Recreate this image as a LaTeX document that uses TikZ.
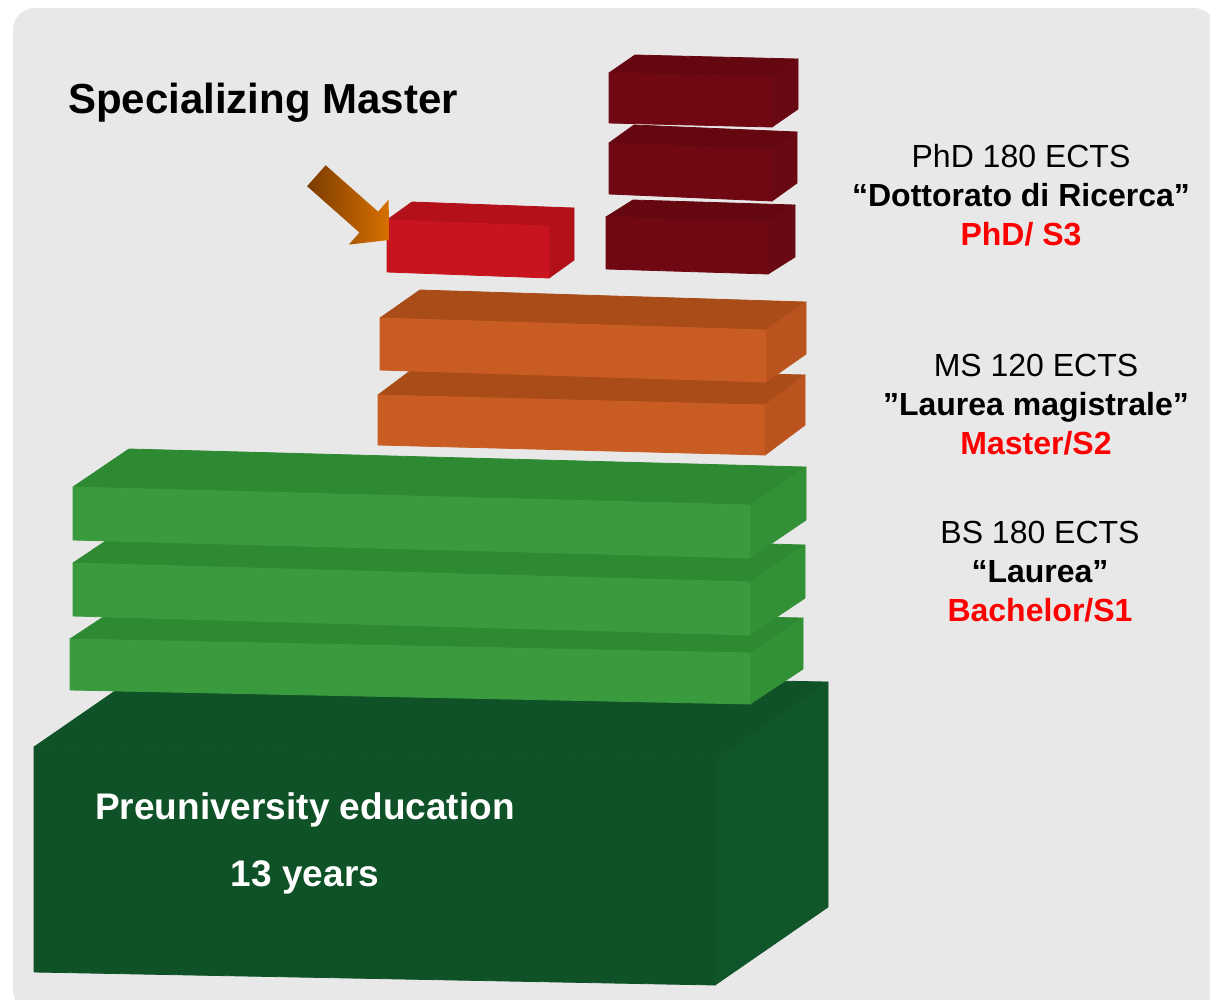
\documentclass[tikz,border=0pt]{standalone}
\usepackage{fontspec}
\setmainfont{Liberation Sans}
\definecolor{bggray}{HTML}{E8E8E8}
\definecolor{dgreenF}{HTML}{105228}
\definecolor{dgreenT}{HTML}{105228}
\definecolor{dgreenS}{HTML}{11552A}
\definecolor{greenF}{HTML}{3A9A3E}
\definecolor{greenT}{HTML}{2E8A32}
\definecolor{greenS}{HTML}{329136}
\definecolor{orangeF}{HTML}{C85C22}
\definecolor{orangeT}{HTML}{AA4C18}
\definecolor{orangeS}{HTML}{BA531E}
\definecolor{redF}{HTML}{C8141E}
\definecolor{redT}{HTML}{B4101A}
\definecolor{redS}{HTML}{B2111A}
\definecolor{dredF}{HTML}{6F0813}
\definecolor{dredT}{HTML}{650711}
\definecolor{dredS}{HTML}{690913}
\definecolor{arrowdark}{HTML}{7A3C00}
\definecolor{arroworange}{HTML}{D87000}
\definecolor{txtred}{HTML}{FF0000}
% slab: x0, top-left y, x1, top-right y, height, depth dx, depth dy, colour
\newcommand{\slab}[8]{%
  \filldraw[#8T, line width=0.8pt, line join=round] (#1,#2) -- (#1+#6,#2-#7) -- (#3+#6,#4-#7) -- (#3,#4) -- cycle;
  \filldraw[#8S, line width=0.8pt, line join=round] (#3,#4) -- (#3+#6,#4-#7) -- (#3+#6,#4-#7+#5) -- (#3,#4+#5) -- cycle;
  \filldraw[#8F, line width=0.8pt, line join=round] (#1,#2) -- (#3,#4) -- (#3,#4+#5) -- (#1,#2+#5) -- cycle;
}
\begin{document}
\begin{tikzpicture}[x=1pt,y=-1pt,
    lbl/.style={font=\fontsize{32}{39}\selectfont, align=center},
    wlbl/.style={font=\fontsize{37}{42}\selectfont\bfseries, text=white}]
  \useasboundingbox (0,0) rectangle (1210,999);
  \clip (0,0) rectangle (1210,999);
  % panel
  \fill[bggray, rounded corners=22pt] (13,8) rectangle (1216,1012);
  % preuniversity block
  \slab{34}{747}{715}{760}{225}{113}{78}{dgreen}
  % bachelor
  \slab{70}{639}{750}{653}{51}{53}{35}{green}
  \slab{73}{563}{750}{582}{53}{55}{37}{green}
  \slab{73}{487}{750}{505}{53}{56}{38}{green}
  % master
  \slab{378}{395}{765}{405}{50}{40}{30}{orange}
  \slab{380}{318}{766}{330}{52}{40}{28}{orange}
  % phd
  \slab{606}{217}{768}{222}{52}{27}{17}{dred}
  \slab{609}{143}{772}{150}{51}{25}{18}{dred}
  \slab{609}{73}{772}{77}{50}{26}{18}{dred}
  % specializing master
  \slab{387}{220}{549}{226}{52}{25}{18}{red}
  % arrow
  \begin{scope}[shift={(389,240)}, rotate=-41.5]
    \shade[left color=arrowdark, right color=arroworange]
      (-97,14) -- (-27,14) -- (-27,30) -- (0,0) -- (-27,-30) -- (-27,-14) -- (-97,-14) -- cycle;
  \end{scope}
  % labels
  \node[font=\fontsize{42}{48}\selectfont\bfseries] (spec) at (263,103) {Specializing Master};
  \node[lbl] (phd) at (1021,195) {PhD 180 ECTS\\\textbf{“Dottorato di Ricerca”}\\\textcolor{txtred}{\textbf{PhD/ S3}}};
  \node[lbl] (ms) at (1036,405) {MS 120 ECTS\\\textbf{”Laurea magistrale”}\\\textcolor{txtred}{\textbf{Master/S2}}};
  \node[lbl] (bs) at (1040,572) {BS 180 ECTS\\\textbf{“Laurea”}\\\textcolor{txtred}{\textbf{Bachelor/S1}}};
  \node[wlbl] (preuni) at (305,810) {Preuniversity education};
  \node[wlbl] (years) at (305,877) {13 years};
\end{tikzpicture}
\end{document}
